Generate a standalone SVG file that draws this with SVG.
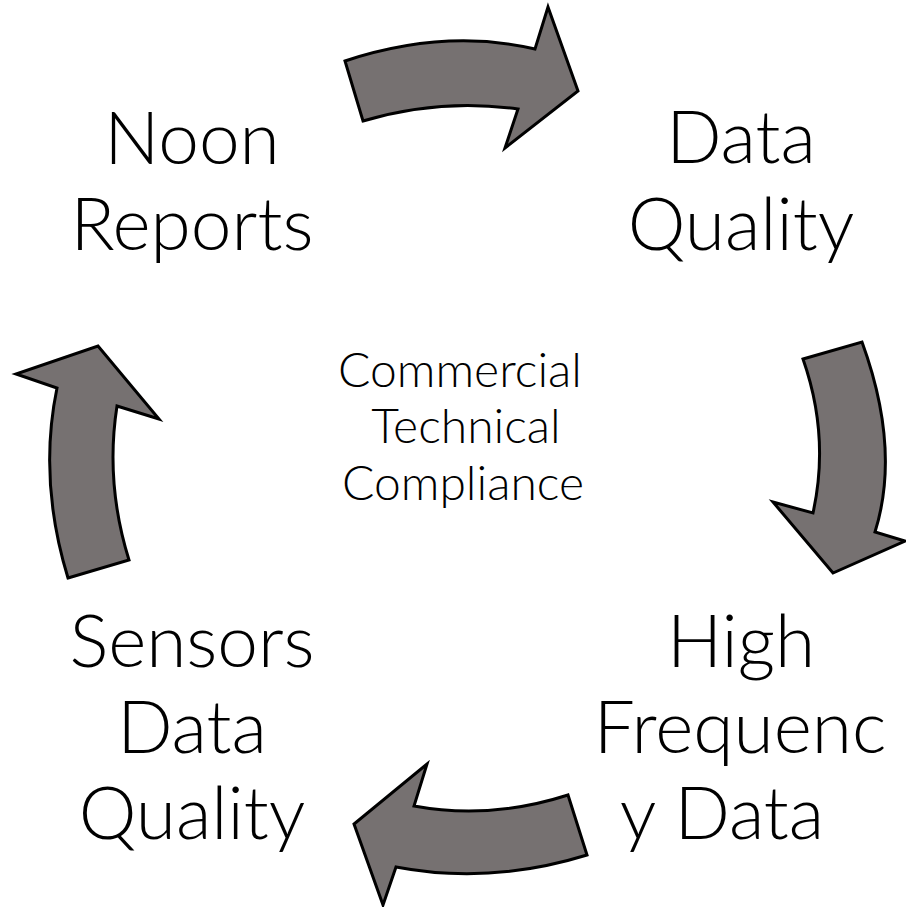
<svg xmlns="http://www.w3.org/2000/svg" width="906" height="907" viewBox="0 0 906 907">
<style>
.arrow{fill:#767171;stroke:#000;stroke-width:3;stroke-linejoin:miter}
.big{font-family:Lato,"Liberation Sans",sans-serif;font-weight:300;font-size:73px;fill:#000;text-anchor:middle}
.mid{font-family:Lato,"Liberation Sans",sans-serif;font-weight:300;font-size:48px;fill:#000;text-anchor:middle}
</style>
<rect width="906" height="907" fill="#fff"/>
<g id="connectors">
<path class="arrow" d="M345,61 Q445,28 535,49 L548,7 L578,91 L505,148 L518,109 Q440,98 363,121 Z"/>
<path class="arrow" d="M803,359 L862,342 Q901,449 875,532 L905,541 L833,573 L773,502 L813,513 Q830,436 803,359 Z"/>
<path class="arrow" d="M568,795 L587,855 Q490,885 396,867 L383,905 L354,824 L427,764 L414,806 Q490,820 568,795 Z"/>
<path class="arrow" d="M68,578 L129,560 Q105,483 117,406 L159,419 L98,346 L16,374 L57,388 Q38,480 68,578 Z"/>
</g>
<g id="noon-reports">
<text class="big" x="192" y="164">Noon</text>
<text class="big" x="192" y="250">Reports</text>
</g>
<g id="data-quality">
<text class="big" x="741" y="163">Data</text>
<text class="big" x="741" y="250">Quality</text>
</g>
<g id="center">
<text class="mid" x="460" y="387">Commercial</text>
<text class="mid" x="466" y="443">Technical</text>
<text class="mid" x="463" y="500">Compliance</text>
</g>
<g id="high-frequency-data">
<text class="big" x="741" y="667">High</text>
<text class="big" x="740" y="753">Frequenc</text>
<text class="big" x="722" y="839">y Data</text>
</g>
<g id="sensors-data-quality">
<text class="big" x="192" y="667">Sensors</text>
<text class="big" x="192" y="753">Data</text>
<text class="big" x="192" y="839">Quality</text>
</g>
</svg>
